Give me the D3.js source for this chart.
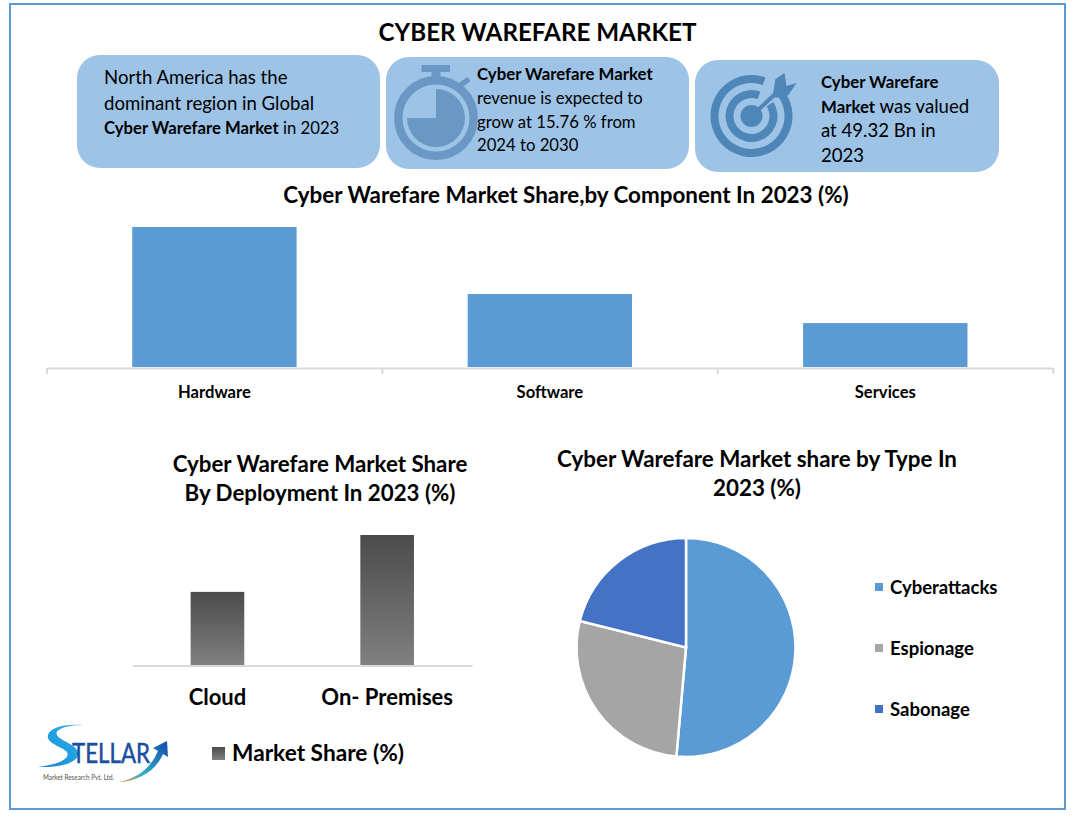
<!DOCTYPE html>
<html><head><meta charset="utf-8">
<script src="https://cdn.jsdelivr.net/npm/d3@7/dist/d3.min.js"></script>
<style>html,body{margin:0;padding:0;background:#fff}svg{display:block}text{font-family:Lato,Carlito,sans-serif;fill:#000}</style>
</head><body><div id="chart"></div>
<script>
const chartTitle = "CYBER WAREFARE MARKET";
const componentTitle = "Cyber Warefare Market Share,by Component In 2023 (%)";
const componentCategories = ["Hardware","Software","Services"];
const componentValues = [54.5,28.4,17.1];
const deploymentTitle = ["Cyber Warefare Market Share","By Deployment In 2023 (%)"];
const deploymentCategories = ["Cloud","On- Premises"];
const deploymentValues = [36,64];
const deploymentLegend = "Market Share (%)";
const typeTitle = ["Cyber Warefare Market share by Type In","2023 (%)"];
const typeCategories = ["Cyberattacks","Espionage","Sabonage"];
const typeValues = [51.4,27.5,21.1];
const typeColors = ["#5B9BD5","#A5A5A5","#4472C4"];
const box1Lines = [[["North America has the",0]],[["dominant region in Global",0]],[["Cyber Warefare Market",1],[" in 2023",0]]];
const box2Lines = [[["Cyber Warefare Market",1]],[["revenue is expected to",0]],[["grow at 15.76 % from",0]],[["2024 to 2030",0]]];
const box3Lines = [[["Cyber Warefare",1]],[["Market",1],[" was valued",0]],[["at 49.32 Bn in",0]],[["2023",0]]];

const svg = d3.select("#chart").append("svg").attr("width",1074).attr("height",819);
const defs = svg.append("defs");
const grad = defs.append("linearGradient").attr("id","barGrad").attr("x1",0).attr("y1",0).attr("x2",0).attr("y2",1);
grad.append("stop").attr("offset",0).attr("stop-color","#4B4B4B");
grad.append("stop").attr("offset",1).attr("stop-color","#808080");
const sGrad = defs.append("linearGradient").attr("id","sGrad").attr("gradientUnits","userSpaceOnUse").attr("x1",85).attr("y1",725).attr("x2",40).attr("y2",768);
sGrad.append("stop").attr("offset",0).attr("stop-color","#2FB4EA");
sGrad.append("stop").attr("offset",.6).attr("stop-color","#1E9BE0");
sGrad.append("stop").attr("offset",1).attr("stop-color","#2A7CD0");
const aGrad = defs.append("linearGradient").attr("id","aGrad").attr("gradientUnits","userSpaceOnUse").attr("x1",120).attr("y1",782).attr("x2",165).attr("y2",742);
aGrad.append("stop").attr("offset",0).attr("stop-color","#E8862A");
aGrad.append("stop").attr("offset",.35).attr("stop-color","#35B3C8");
aGrad.append("stop").attr("offset",1).attr("stop-color","#1450B0");

// frame
svg.append("rect").attr("x",10).attr("y",4).attr("width",1055).attr("height",805).attr("fill","#fff").attr("stroke","#5B9BD5").attr("stroke-width",2);
svg.append("text").attr("x",537.5).attr("y",41).attr("text-anchor","middle").attr("font-size",24.2).attr("font-weight",700).text(chartTitle);

// info boxes
function box(x,y,w,h){svg.append("rect").attr("x",x).attr("y",y).attr("width",w).attr("height",h).attr("rx",23).attr("fill","#9DC3E6");}
box(77,55,303,113); box(386,57,303,112); box(695,60,304,112);
function lines(x,rows){
  rows.forEach(r=>{
    const t=svg.append("text").attr("x",x).attr("y",r.y);
    r.parts.forEach(p=>t.append("tspan").attr("font-size",p[1]?r.bs:r.rs).attr("font-weight",p[1]?700:400).attr("xml:space","preserve").text(p[0]));
  });
}
lines(104,[{y:84,parts:box1Lines[0],rs:18.6,bs:16.7},{y:110,parts:box1Lines[1],rs:18.6,bs:16.7},{y:134,parts:box1Lines[2],rs:16.7,bs:16.7}]);
lines(477,box2Lines.map((p,i)=>({y:[80,104,128,151][i],parts:p,rs:16.7,bs:16.8})));
lines(821,box3Lines.map((p,i)=>({y:[88,113,137,162][i],parts:p,rs:18.6,bs:16.8})));

// stopwatch icon
const swCol="#6A97C4";
const sw=svg.append("g").attr("transform","translate(436,118)");
sw.append("circle").attr("r",37.7).attr("fill","none").attr("stroke",swCol).attr("stroke-width",8.4);
sw.append("path").attr("fill",swCol).attr("d",d3.arc()({innerRadius:0,outerRadius:29,startAngle:0,endAngle:Math.PI*1.5}));
sw.append("rect").attr("x",-14.5).attr("y",-53).attr("width",28.5).attr("height",7).attr("fill",swCol);
sw.append("rect").attr("x",-4.5).attr("y",-47).attr("width",9).attr("height",9).attr("fill",swCol);
sw.append("line").attr("x1",22).attr("y1",-31).attr("x2",31).attr("y2",-37.5).attr("stroke",swCol).attr("stroke-width",5.5).attr("stroke-linecap","round");

// target icon
const tCol="#4F86B8";
const tg=svg.append("g").attr("transform","translate(751.5,116)");
const gapA=[0.35,1.0];
[[33,41],[18,26]].forEach(([a,b])=>{
  tg.append("path").attr("fill",tCol).attr("d",d3.arc()({innerRadius:a,outerRadius:b,startAngle:gapA[1],endAngle:gapA[0]+Math.PI*2}));
});
tg.append("circle").attr("r",11).attr("fill",tCol);
tg.append("line").attr("x1",0).attr("y1",0).attr("x2",27).attr("y2",-25).attr("stroke",tCol).attr("stroke-width",4);
tg.append("path").attr("fill",tCol).attr("d",d3.line()([[21,-19],[24,-37],[33,-43],[35,-30],[45,-33],[37,-21],[29,-18]]));

// component bars
const x1=d3.scaleBand().domain(componentCategories).range([46.7,1053]).paddingInner(.51).paddingOuter(.255);
const y1=d3.scaleLinear().domain([0,54.5]).range([367,227]);
svg.append("g").selectAll("rect").data(componentValues).join("rect")
  .attr("x",(d,i)=>x1(componentCategories[i])).attr("width",x1.bandwidth())
  .attr("y",d=>y1(d)).attr("height",d=>y1(0)-y1(d)).attr("fill","#5B9BD5");
const ax1=svg.append("g").attr("transform","translate(0,368)").call(d3.axisBottom(x1).tickSize(0).tickPadding(18));
ax1.select(".domain").attr("stroke","#D9D9D9").attr("stroke-width",2);
ax1.selectAll("text").attr("font-size",16.6).attr("font-weight",700).attr("font-family","Lato");
svg.append("g").selectAll("line").data(d3.range(componentCategories.length+1)).join("line")
  .attr("x1",i=>47+i*x1.step()).attr("x2",i=>47+i*x1.step()).attr("y1",368).attr("y2",374).attr("stroke","#D9D9D9").attr("stroke-width",2);
svg.append("text").attr("x",566).attr("y",203).attr("text-anchor","middle").attr("font-size",22.4).attr("font-weight",700).text(componentTitle);

// deployment bars
const x2=d3.scaleBand().domain(deploymentCategories).range([132.6,472]).paddingInner(.684).paddingOuter(.342);
const y2=d3.scaleLinear().domain([0,64]).range([665,535]);
svg.append("g").selectAll("rect").data(deploymentValues).join("rect")
  .attr("x",(d,i)=>x2(deploymentCategories[i])).attr("width",x2.bandwidth())
  .attr("y",d=>y2(d)).attr("height",d=>y2(0)-y2(d)).attr("fill","url(#barGrad)");
const ax2=svg.append("g").attr("transform","translate(0,665.5)").call(d3.axisBottom(x2).tickSize(0).tickPadding(24));
ax2.select(".domain").attr("stroke","#D9D9D9").attr("stroke-width",2);
ax2.selectAll("text").attr("font-size",22).attr("font-weight",700).attr("font-family","Lato");
deploymentTitle.forEach((t,i)=>svg.append("text").attr("x",320).attr("y",[472,501][i]).attr("text-anchor","middle").attr("font-size",22.3).attr("font-weight",700).text(t));
svg.append("rect").attr("x",212).attr("y",747).attr("width",13).attr("height",13).attr("fill","url(#barGrad)");
svg.append("text").attr("x",232).attr("y",761).attr("font-size",22.7).attr("font-weight",700).text(deploymentLegend);

// pie
const pieArcs=d3.pie().sort(null)(typeValues);
const arc=d3.arc().innerRadius(0).outerRadius(109.5);
svg.append("g").attr("transform","translate(686,647.5)").selectAll("path").data(pieArcs).join("path")
  .attr("d",arc).attr("fill",(d,i)=>typeColors[i]).attr("stroke","#fff").attr("stroke-width",2.5);
typeTitle.forEach((t,i)=>svg.append("text").attr("x",757).attr("y",[467,496][i]).attr("text-anchor","middle").attr("font-size",22.4).attr("font-weight",700).text(t));
const ly=[587,648,709];
typeCategories.forEach((c,i)=>{
  svg.append("rect").attr("x",875).attr("y",ly[i]-4).attr("width",8).attr("height",8).attr("fill",typeColors[i]);
  svg.append("text").attr("x",890).attr("y",ly[i]+6.5).attr("font-size",18.5).attr("font-weight",700).text(c);
});

// logo
const logo=svg.append("g");
logo.append("path").attr("fill","url(#sGrad)").attr("d","M84,725 C66,724 50,727 48,735 C46,743 60,746 66,751 C72,757 62,764 38,767 C62,768 80,762 78,752 C76,744 60,741 57,735 C54,729 68,725 84,725 Z");
logo.append("text").attr("x",72).attr("y",763).attr("font-size",27).attr("font-weight",400).attr("textLength",78).attr("lengthAdjust","spacingAndGlyphs").style("fill","#1A4E9E").style("stroke","#1A4E9E").style("stroke-width",.5).text("TELLAR");
logo.append("path").attr("fill","url(#aGrad)").attr("d","M119,782 C140,778 152,765 158,751 L153,748 L167,741 L168,757 L163,754 C156,770 140,781 119,782 Z");
logo.append("text").attr("x",43).attr("y",780).attr("font-size",8).attr("textLength",71).attr("lengthAdjust","spacingAndGlyphs").style("fill","#555").text("Market Research Pvt. Ltd.");
</script></body></html>
